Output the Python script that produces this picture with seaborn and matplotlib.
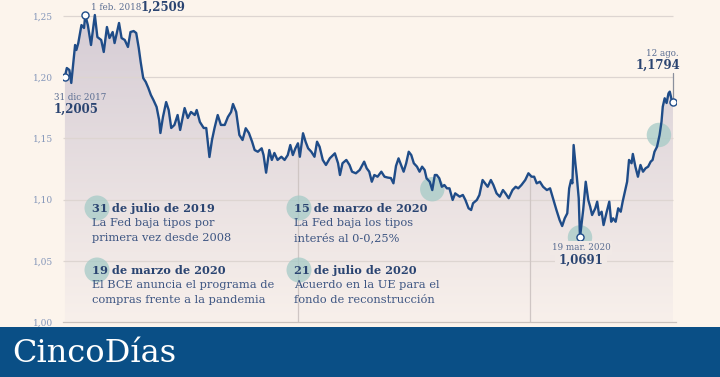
import numpy as np
import pandas as pd
import matplotlib.pyplot as plt
import matplotlib.dates as mdates
import seaborn as sns
from matplotlib.colors import LinearSegmentedColormap
from matplotlib.patches import Circle, Rectangle
from matplotlib.transforms import IdentityTransform

# --- data (EUR/USD) ---
dates_2018 = ['2017-12-31', '2018-01-03', '2018-01-07', '2018-01-10', '2018-01-16', '2018-01-18',
              '2018-01-21', '2018-01-26', '2018-01-30', '2018-02-01', '2018-02-05', '2018-02-10',
              '2018-02-16', '2018-02-20', '2018-02-26', '2018-03-02', '2018-03-07', '2018-03-11',
              '2018-03-16', '2018-03-19', '2018-03-26', '2018-03-30', '2018-04-04', '2018-04-09',
              '2018-04-13', '2018-04-18', '2018-04-22', '2018-04-26', '2018-04-29', '2018-05-03',
              '2018-05-07', '2018-05-11', '2018-05-15', '2018-05-19', '2018-05-24', '2018-05-28',
              '2018-05-30', '2018-06-03', '2018-06-08', '2018-06-12', '2018-06-16', '2018-06-21',
              '2018-06-26', '2018-06-30', '2018-07-07', '2018-07-12', '2018-07-17', '2018-07-23',
              '2018-07-26', '2018-07-31', '2018-08-06', '2018-08-10', '2018-08-15', '2018-08-19',
              '2018-08-23', '2018-08-28', '2018-09-02', '2018-09-08', '2018-09-13', '2018-09-18',
              '2018-09-21', '2018-09-26', '2018-10-01', '2018-10-06', '2018-10-11', '2018-10-16',
              '2018-10-21', '2018-10-25', '2018-10-30', '2018-11-05', '2018-11-08', '2018-11-12',
              '2018-11-17', '2018-11-21', '2018-11-25', '2018-11-30', '2018-12-06', '2018-12-11',
              '2018-12-16', '2018-12-20', '2018-12-24', '2018-12-28']
values_2018 = [1.2005, 1.2075, 1.2059, 1.1953, 1.2263, 1.2222, 1.2279, 1.2426, 1.2402, 1.2509,
               1.2426, 1.2263, 1.2508, 1.2328, 1.2304, 1.2206, 1.2410, 1.2320, 1.2369, 1.2279,
               1.2443, 1.2320, 1.2304, 1.2247, 1.2369, 1.2377, 1.2361, 1.2238, 1.2124, 1.1993,
               1.1961, 1.1912, 1.1855, 1.1814, 1.1757, 1.1650, 1.1544, 1.1675, 1.1797, 1.1732,
               1.1585, 1.1610, 1.1691, 1.1569, 1.1748, 1.1667, 1.1716, 1.1691, 1.1732, 1.1634,
               1.1585, 1.1585, 1.1348, 1.1487, 1.1585, 1.1691, 1.1610, 1.1610, 1.1675, 1.1716,
               1.1781, 1.1716, 1.1528, 1.1487, 1.1583, 1.1544, 1.1473, 1.1405, 1.1391, 1.1419,
               1.1364, 1.1220, 1.1405, 1.1324, 1.1381, 1.1324, 1.1350, 1.1324, 1.1364, 1.1446,
               1.1364, 1.1419]

dates_2019 = ['2019-01-01', '2019-01-04', '2019-01-09', '2019-01-13', '2019-01-17', '2019-01-22',
              '2019-01-27', '2019-01-31', '2019-02-04', '2019-02-09', '2019-02-14', '2019-02-20',
              '2019-02-28', '2019-03-05', '2019-03-08', '2019-03-12', '2019-03-18', '2019-03-23',
              '2019-03-27', '2019-04-02', '2019-04-08', '2019-04-15', '2019-04-19', '2019-04-23',
              '2019-04-27', '2019-05-01', '2019-05-06', '2019-05-12', '2019-05-17', '2019-05-22',
              '2019-05-27', '2019-05-31', '2019-06-04', '2019-06-08', '2019-06-12', '2019-06-16',
              '2019-06-20', '2019-06-24', '2019-06-28', '2019-07-02', '2019-07-07', '2019-07-11',
              '2019-07-15', '2019-07-19', '2019-07-22', '2019-07-27', '2019-07-31', '2019-08-04',
              '2019-08-07', '2019-08-11', '2019-08-15', '2019-08-19', '2019-08-23', '2019-08-27',
              '2019-09-01', '2019-09-05', '2019-09-12', '2019-09-17', '2019-09-21', '2019-09-26',
              '2019-09-30', '2019-10-03', '2019-10-09', '2019-10-13', '2019-10-18', '2019-10-22',
              '2019-10-26', '2019-10-31', '2019-11-04', '2019-11-09', '2019-11-14', '2019-11-19',
              '2019-11-23', '2019-11-28', '2019-12-04', '2019-12-09', '2019-12-13', '2019-12-18',
              '2019-12-24', '2019-12-29']
values_2019 = [1.1460, 1.1350, 1.1542, 1.1473, 1.1419, 1.1391, 1.1350, 1.1473, 1.1432, 1.1324,
               1.1283, 1.1337, 1.1378, 1.1297, 1.1201, 1.1297, 1.1324, 1.1283, 1.1228, 1.1215,
               1.1242, 1.1310, 1.1256, 1.1228, 1.1146, 1.1201, 1.1187, 1.1228, 1.1187, 1.1180,
               1.1176, 1.1133, 1.1275, 1.1337, 1.1283, 1.1228, 1.1297, 1.1391, 1.1364, 1.1297,
               1.1269, 1.1228, 1.1269, 1.1242, 1.1174, 1.1146, 1.1078, 1.1201, 1.1201, 1.1174,
               1.1105, 1.1119, 1.1092, 1.1092, 1.0997, 1.1051, 1.1024, 1.1038, 1.0997, 1.0929,
               1.0915, 1.0970, 1.0997, 1.1038, 1.1160, 1.1133, 1.1105, 1.1160, 1.1119, 1.1051,
               1.1024, 1.1078, 1.1051, 1.1011, 1.1078, 1.1105, 1.1092, 1.1119, 1.1160, 1.1215]

dates_2020 = ['2020-01-03', '2020-01-07', '2020-01-11', '2020-01-16', '2020-01-21', '2020-01-27',
              '2020-02-01', '2020-02-05', '2020-02-11', '2020-02-16', '2020-02-20', '2020-02-24',
              '2020-02-28', '2020-03-02', '2020-03-05', '2020-03-07', '2020-03-09', '2020-03-12',
              '2020-03-14', '2020-03-17', '2020-03-19', '2020-03-24', '2020-03-28', '2020-04-01',
              '2020-04-04', '2020-04-07', '2020-04-12', '2020-04-15', '2020-04-18', '2020-04-22',
              '2020-04-25', '2020-04-30', '2020-05-04', '2020-05-07', '2020-05-10', '2020-05-14',
              '2020-05-18', '2020-05-22', '2020-05-25', '2020-05-29', '2020-06-01', '2020-06-04',
              '2020-06-08', '2020-06-10', '2020-06-14', '2020-06-18', '2020-06-22', '2020-06-26',
              '2020-06-30', '2020-07-04', '2020-07-08', '2020-07-11', '2020-07-14', '2020-07-18',
              '2020-07-22', '2020-07-25', '2020-07-27', '2020-07-30', '2020-08-02', '2020-08-05',
              '2020-08-07', '2020-08-10', '2020-08-12']
values_2020 = [1.1187, 1.1187, 1.1133, 1.1146, 1.1105, 1.1078, 1.1092, 1.1021, 1.0915, 1.0833,
               1.0784, 1.0847, 1.0888, 1.1092, 1.1160, 1.1133, 1.1446, 1.1283, 1.1187, 1.1011,
               1.0691, 1.0915, 1.1146, 1.0997, 1.0942, 1.0874, 1.0929, 1.0983, 1.0874, 1.0901,
               1.0792, 1.0901, 1.0983, 1.0819, 1.0847, 1.0819, 1.0929, 1.0901, 1.0983, 1.1078,
               1.1146, 1.1324, 1.1297, 1.1373, 1.1269, 1.1187, 1.1283, 1.1228, 1.1256, 1.1269,
               1.1310, 1.1324, 1.1391, 1.1432, 1.1528, 1.1636, 1.1759, 1.1828, 1.1789, 1.1868,
               1.1882, 1.1814, 1.1794]

# highlighted points (white markers) and event bubbles
point_dates = ['2017-12-31', '2018-02-01', '2020-03-19', '2020-08-12']
point_values = [1.2005, 1.2509, 1.0691, 1.1794]
event_dates = ['2019-07-31', '2020-03-19', '2020-07-21']
event_values = [1.1085, 1.0691, 1.1528]

yticks = [1.00, 1.05, 1.10, 1.15, 1.20, 1.25]
ytick_labels = ['1,00', '1,05', '1,10', '1,15', '1,20', '1,25']

events_titles = ['31 de julio de 2019', '19 de marzo de 2020', '15 de marzo de 2020', '21 de julio de 2020']
events_lines = [['La Fed baja tipos por', 'primera vez desde 2008'],
                ['El BCE anuncia el programa de', 'compras frente a la pandemia'],
                ['La Fed baja los tipos', 'interés al 0-0,25%'],
                ['Acuerdo en la UE para el', 'fondo de reconstrucción']]

# --- colours ---
BG = '#fcf4ec'
LINE = '#1f4c88'
DARK = '#2a4471'
TEXT = '#3d5582'
SMALL = '#5a6d92'
GRID = '#ddd5d1'
BUBBLE = '#a6cbc7'
BANNER = '#0a4f86'

sns.set_style('white')
plt.rcParams['font.family'] = ['DejaVu Serif']

df = pd.DataFrame({'date': pd.to_datetime(dates_2018 + dates_2019 + dates_2020),
                   'value': values_2018 + values_2019 + values_2020})

W, H = 720, 377
fig = plt.figure(figsize=(W / 100, H / 100), dpi=100, facecolor=BG)
ax = fig.add_axes([63 / W, 55 / H, 612.5 / W, 0.262 * 1224 / H])
ax.set_facecolor('none')

x_left = pd.Timestamp('2017-12-28')
x_right = pd.Timestamp('2020-08-16')
x_end = df['date'].iloc[-1]

# gradient fill under the curve
poly = ax.fill_between(df['date'], df['value'], 1.0, facecolor='none', edgecolor='none')
cmap = LinearSegmentedColormap.from_list('fade', ['#f8f0eb', '#d4cbd4'])
grad = np.linspace(1, 0, 256).reshape(-1, 1)
img = ax.imshow(grad, extent=[mdates.date2num(x_left), mdates.date2num(x_right), 1.0, 1.262],
                aspect='auto', cmap=cmap, vmin=0, vmax=1, zorder=1)
img.set_clip_path(poly.get_paths()[0], transform=ax.transData)

# gridlines
ax.hlines(yticks[1:], x_left, x_end, color=GRID, lw=0.9, zorder=2)

# year separators, up to the curve
num = mdates.date2num(df['date'])
for yr in ['2019-01-01', '2020-01-01']:
    d = pd.Timestamp(yr)
    top = np.interp(mdates.date2num(d), num, df['value'])
    ax.vlines(d, 1.0, top, color='#cfc6c4', lw=0.9, zorder=2)

# event bubbles on the curve
ax.scatter(pd.to_datetime(event_dates), event_values, s=310, color=BUBBLE, alpha=0.75,
           edgecolor='none', zorder=3)

sns.lineplot(data=df, x='date', y='value', color=LINE, lw=1.7, ax=ax, zorder=4)

# end marker leader line
ax.plot([x_end, x_end], [1.1794, 1.2035], color='#8a8f9c', lw=0.9, zorder=3)

ax.scatter(pd.to_datetime(point_dates), point_values, s=26, facecolor='white', edgecolor=LINE,
           linewidth=1.0, zorder=6)

ax.set_xlim(x_left, x_right)
ax.set_ylim(1.0, 1.262)
ax.set_xlabel('')
ax.set_ylabel('')

ax.set_yticks(yticks)
ax.set_yticklabels(ytick_labels, fontsize=6.5, color='#8597ba')
ax.tick_params(axis='y', length=0, pad=7)

ax.xaxis.set_major_locator(mdates.MonthLocator())
ax.set_xticklabels([])
ax.tick_params(axis='x', direction='inout', length=6, width=0.8, color='#c9c1bd')

for s in ['top', 'left', 'right']:
    ax.spines[s].set_visible(False)
ax.spines['bottom'].set_color('#c9c1bd')
ax.spines['bottom'].set_linewidth(0.9)


def px(x, y):
    return x / W, 1 - y / H


# point labels
fig.text(*px(91, 8), '1 feb. 2018', fontsize=6.3, color=SMALL, va='center')
fig.text(*px(141, 7), '1,2509', fontsize=8.5, color=DARK, fontweight='bold', va='center')
fig.text(*px(54, 97), '31 dic 2017', fontsize=6.3, color=SMALL, va='center')
fig.text(*px(54, 109), '1,2005', fontsize=8.5, color=DARK, fontweight='bold', va='center')
fig.text(*px(679, 53), '12 ago.', fontsize=6.3, color=SMALL, va='center', ha='right')
fig.text(*px(680, 65), '1,1794', fontsize=8.5, color=DARK, fontweight='bold', va='center', ha='right')
fig.text(*px(581, 248), '19 mar. 2020', fontsize=6.3, color=SMALL, va='center', ha='center',
         bbox=dict(facecolor='#f1e9e6', edgecolor='none', pad=1.5))
fig.text(*px(581, 260), '1,0691', fontsize=8.5, color=DARK, fontweight='bold', va='center',
         ha='center', bbox=dict(facecolor='#f1e9e6', edgecolor='none', pad=2.5))

# event legend blocks
cols = [(92, 208), (92, 270), (294, 208), (294, 270)]
for (x, y), title, lines in zip(cols, events_titles, events_lines):
    fig.add_artist(Circle((x + 5, H - y), 12.5, transform=IdentityTransform(),
                          facecolor=BUBBLE, alpha=0.75, edgecolor='none'))
    fig.text(*px(x, y), title, fontsize=8.2, color=DARK, fontweight='bold', va='center')
    fig.text(*px(x, y + 15), lines[0], fontsize=8.2, color=TEXT, va='center')
    fig.text(*px(x, y + 30), lines[1], fontsize=8.2, color=TEXT, va='center')

# bottom banner
fig.add_artist(Rectangle((0, 0), 1, 50 / H, transform=fig.transFigure, facecolor=BANNER,
                         edgecolor='none'))
fig.text(*px(12, 353), 'CincoDías', fontsize=23, color='white', va='center')

fig.savefig('out.png', dpi=100, facecolor=BG)
